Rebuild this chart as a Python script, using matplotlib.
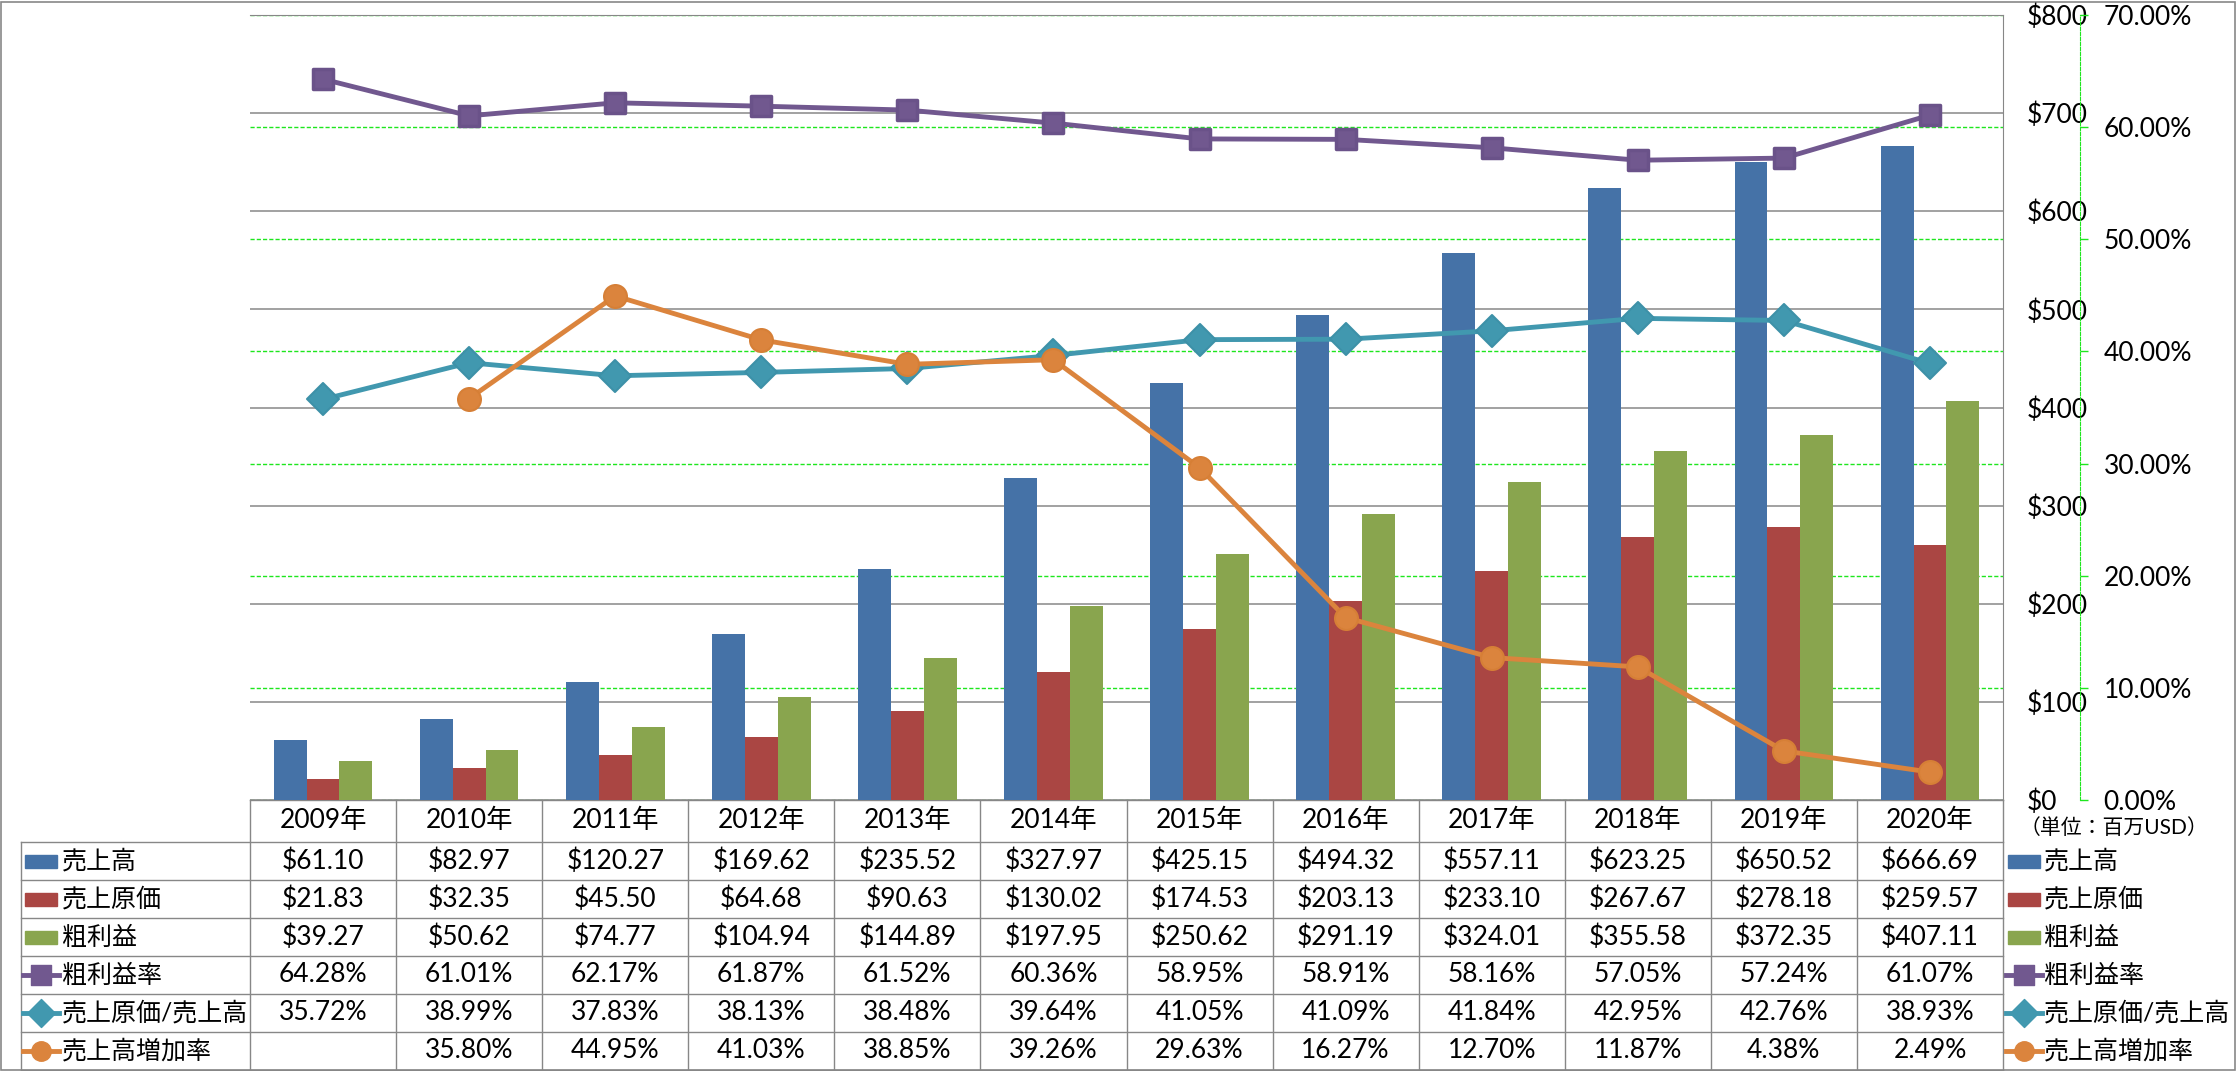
import numpy as np
import matplotlib.pyplot as plt
from matplotlib.patches import Rectangle
from matplotlib.markers import MarkerStyle

plt.rcParams['font.family'] = ['Lato', 'Noto Sans CJK JP', 'DejaVu Sans']

years = ['2009年', '2010年', '2011年', '2012年', '2013年', '2014年',
         '2015年', '2016年', '2017年', '2018年', '2019年', '2020年']
sales = [61.10, 82.97, 120.27, 169.62, 235.52, 327.97, 425.15, 494.32, 557.11, 623.25, 650.52, 666.69]
cogs = [21.83, 32.35, 45.50, 64.68, 90.63, 130.02, 174.53, 203.13, 233.10, 267.67, 278.18, 259.57]
gross = [39.27, 50.62, 74.77, 104.94, 144.89, 197.95, 250.62, 291.19, 324.01, 355.58, 372.35, 407.11]
gross_margin = [64.28, 61.01, 62.17, 61.87, 61.52, 60.36, 58.95, 58.91, 58.16, 57.05, 57.24, 61.07]
cogs_ratio = [35.72, 38.99, 37.83, 38.13, 38.48, 39.64, 41.05, 41.09, 41.84, 42.95, 42.76, 38.93]
sales_growth = [np.nan, 35.80, 44.95, 41.03, 38.85, 39.26, 29.63, 16.27, 12.70, 11.87, 4.38, 2.49]

BLUE, RED, GREEN_BAR = '#4572A7', '#AA4643', '#89A54E'
PURPLE, TEAL, ORANGE = '#71588F', '#4198AF', '#DB843D'
GRID_GRAY = '#878787'
GRID_GREEN = '#1EE61E'
NUM_FS = 19
JP_FS = 18

W, H = 2236, 1071
fig = plt.figure(figsize=(W / 100, H / 100), dpi=100)


def rect(l, t, r, b):
    return [l / W, 1 - b / H, (r - l) / W, (b - t) / H]


PL, PT, PR, PB = 250, 15, 2003, 800
x = np.arange(len(years))

# secondary gridlines (green, behind bars)
bg = fig.add_axes(rect(PL, PT, PR, PB))
bg.set_zorder(0)
bg.set_xlim(-0.5, 11.5)
bg.set_ylim(0, 70)
bg.set_yticks(np.arange(0, 71, 10))
bg.grid(axis='y', color=GRID_GREEN, ls=(0, (3, 1.5)), lw=1)
bg.set_xticks([])
bg.tick_params(left=False, labelleft=False)
for s in bg.spines.values():
    s.set_visible(False)

# bars
ax = fig.add_axes(rect(PL, PT, PR, PB))
ax.set_zorder(1)
ax.patch.set_visible(False)
bw = 0.225
ax.bar(x - bw, sales, bw, color=BLUE)
ax.bar(x, cogs, bw, color=RED)
ax.bar(x + bw, gross, bw, color=GREEN_BAR)
ax.set_xlim(-0.5, 11.5)
ax.set_ylim(0, 800)
ax.set_xticks([])
ax.grid(axis='y', color=GRID_GRAY, lw=1.1)
ax.set_axisbelow(True)
for k in ['left', 'bottom']:
    ax.spines[k].set_visible(False)
for k in ['right', 'top']:
    ax.spines[k].set_color(GRID_GRAY)

# percentage lines
ax2 = ax.twinx()
ax2.set_zorder(2)
ax2.patch.set_visible(False)
sq = MarkerStyle('s', joinstyle='round')
dm = MarkerStyle('D', joinstyle='round')
ax2.plot(x, gross_margin, color=PURPLE, lw=3.5, marker=sq, ms=15, mec='#6A5289', mew=2.5)
ax2.plot(x, cogs_ratio, color=TEAL, lw=3.5, marker=dm, ms=16, mec='#3D91A8', mew=1.5)
ax2.plot(x, sales_growth, color=ORANGE, lw=3.5, marker='o', ms=16.5, mec='#D67F36', mew=1.5)
ax2.set_ylim(0, 70)
ax2.set_yticks(np.arange(0, 71, 10))
ax2.set_yticklabels([f'{v:.2f}%' for v in np.arange(0, 71, 10)])
ax2.tick_params(axis='y', length=6, color=GRID_GREEN, width=1, pad=11, labelsize=NUM_FS)
for k in ['left', 'top', 'bottom']:
    ax2.spines[k].set_visible(False)
ax2.spines['right'].set_position(('axes', (2080 - PL) / (PR - PL)))
ax2.spines['right'].set_color(GRID_GREEN)
ax2.spines['right'].set_linestyle((0, (3, 1.5)))

ax.yaxis.tick_right()
ax.set_yticks(np.arange(0, 801, 100))
ax.set_yticklabels([f'${v}' for v in range(0, 801, 100)])
ax.tick_params(axis='y', length=0, pad=17, labelsize=NUM_FS)

# data table
HEAD = 42 / 38
ROW_B = 1070
tab = fig.add_axes(rect(PL, PB, PR, ROW_B))
tab.set_xlim(-0.5, 11.5)
tab.set_ylim(HEAD + 6, 0)
tab.axis('off')
ux = (PR - PL) / 12


def cx(px):
    return -0.5 + (px - PL) / ux


lkw = dict(color=GRID_GRAY, lw=1, clip_on=False)
left_edge = cx(21)
tab.plot([-0.5, 11.5], [0, 0], **lkw)
for k in range(7):
    tab.plot([left_edge, 11.5], [HEAD + k, HEAD + k], **lkw)
for k in range(13):
    tab.plot([k - 0.5, k - 0.5], [0, HEAD + 6], **lkw)
tab.plot([left_edge, left_edge], [HEAD, HEAD + 6], **lkw)

for i, yl in enumerate(years):
    tab.text(i, HEAD / 2, yl, ha='center', va='center', fontsize=NUM_FS)

rows = [
    ('売上高', sales, 'bar', BLUE, None, '$'),
    ('売上原価', cogs, 'bar', RED, None, '$'),
    ('粗利益', gross, 'bar', GREEN_BAR, None, '$'),
    ('粗利益率', gross_margin, 'line', PURPLE, sq, '%'),
    ('売上原価/売上高', cogs_ratio, 'line', TEAL, dm, '%'),
    ('売上高増加率', sales_growth, 'line', ORANGE, 'o', '%'),
]


def legend_key(x0, yc, kind, color, marker):
    if kind == 'bar':
        h = 13 / 38
        tab.add_patch(Rectangle((cx(x0), yc - h / 2), 32 / ux, h, color=color, clip_on=False))
    else:
        tab.plot([cx(x0 - 2), cx(x0 + 16), cx(x0 + 34)], [yc] * 3, color=color, lw=3.5,
                 marker=marker, ms=14, markevery=[1], clip_on=False)


for r, (label, vals, kind, color, marker, unit) in enumerate(rows):
    yc = HEAD + r + 0.5
    legend_key(25, yc, kind, color, marker)
    tab.text(cx(62), yc, label, ha='left', va='center', fontsize=JP_FS)
    legend_key(2008, yc, kind, color, marker)
    tab.text(cx(2044), yc, label, ha='left', va='center', fontsize=JP_FS)
    for i, v in enumerate(vals):
        if np.isnan(v):
            continue
        s = f'${v:.2f}' if unit == '$' else f'{v:.2f}%'
        tab.text(i, yc, s, ha='center', va='center', fontsize=NUM_FS)

tab.text(cx(2020), 28 / 38, '（単位：百万USD）', ha='left', va='center', fontsize=15)

fig.add_artist(Rectangle((0.5 / W, 1.5 / H), (W - 2) / W, (H - 3) / H,
                         transform=fig.transFigure, fill=False, ec=GRID_GRAY, lw=1.2))

fig.savefig('out.png', dpi=100)
